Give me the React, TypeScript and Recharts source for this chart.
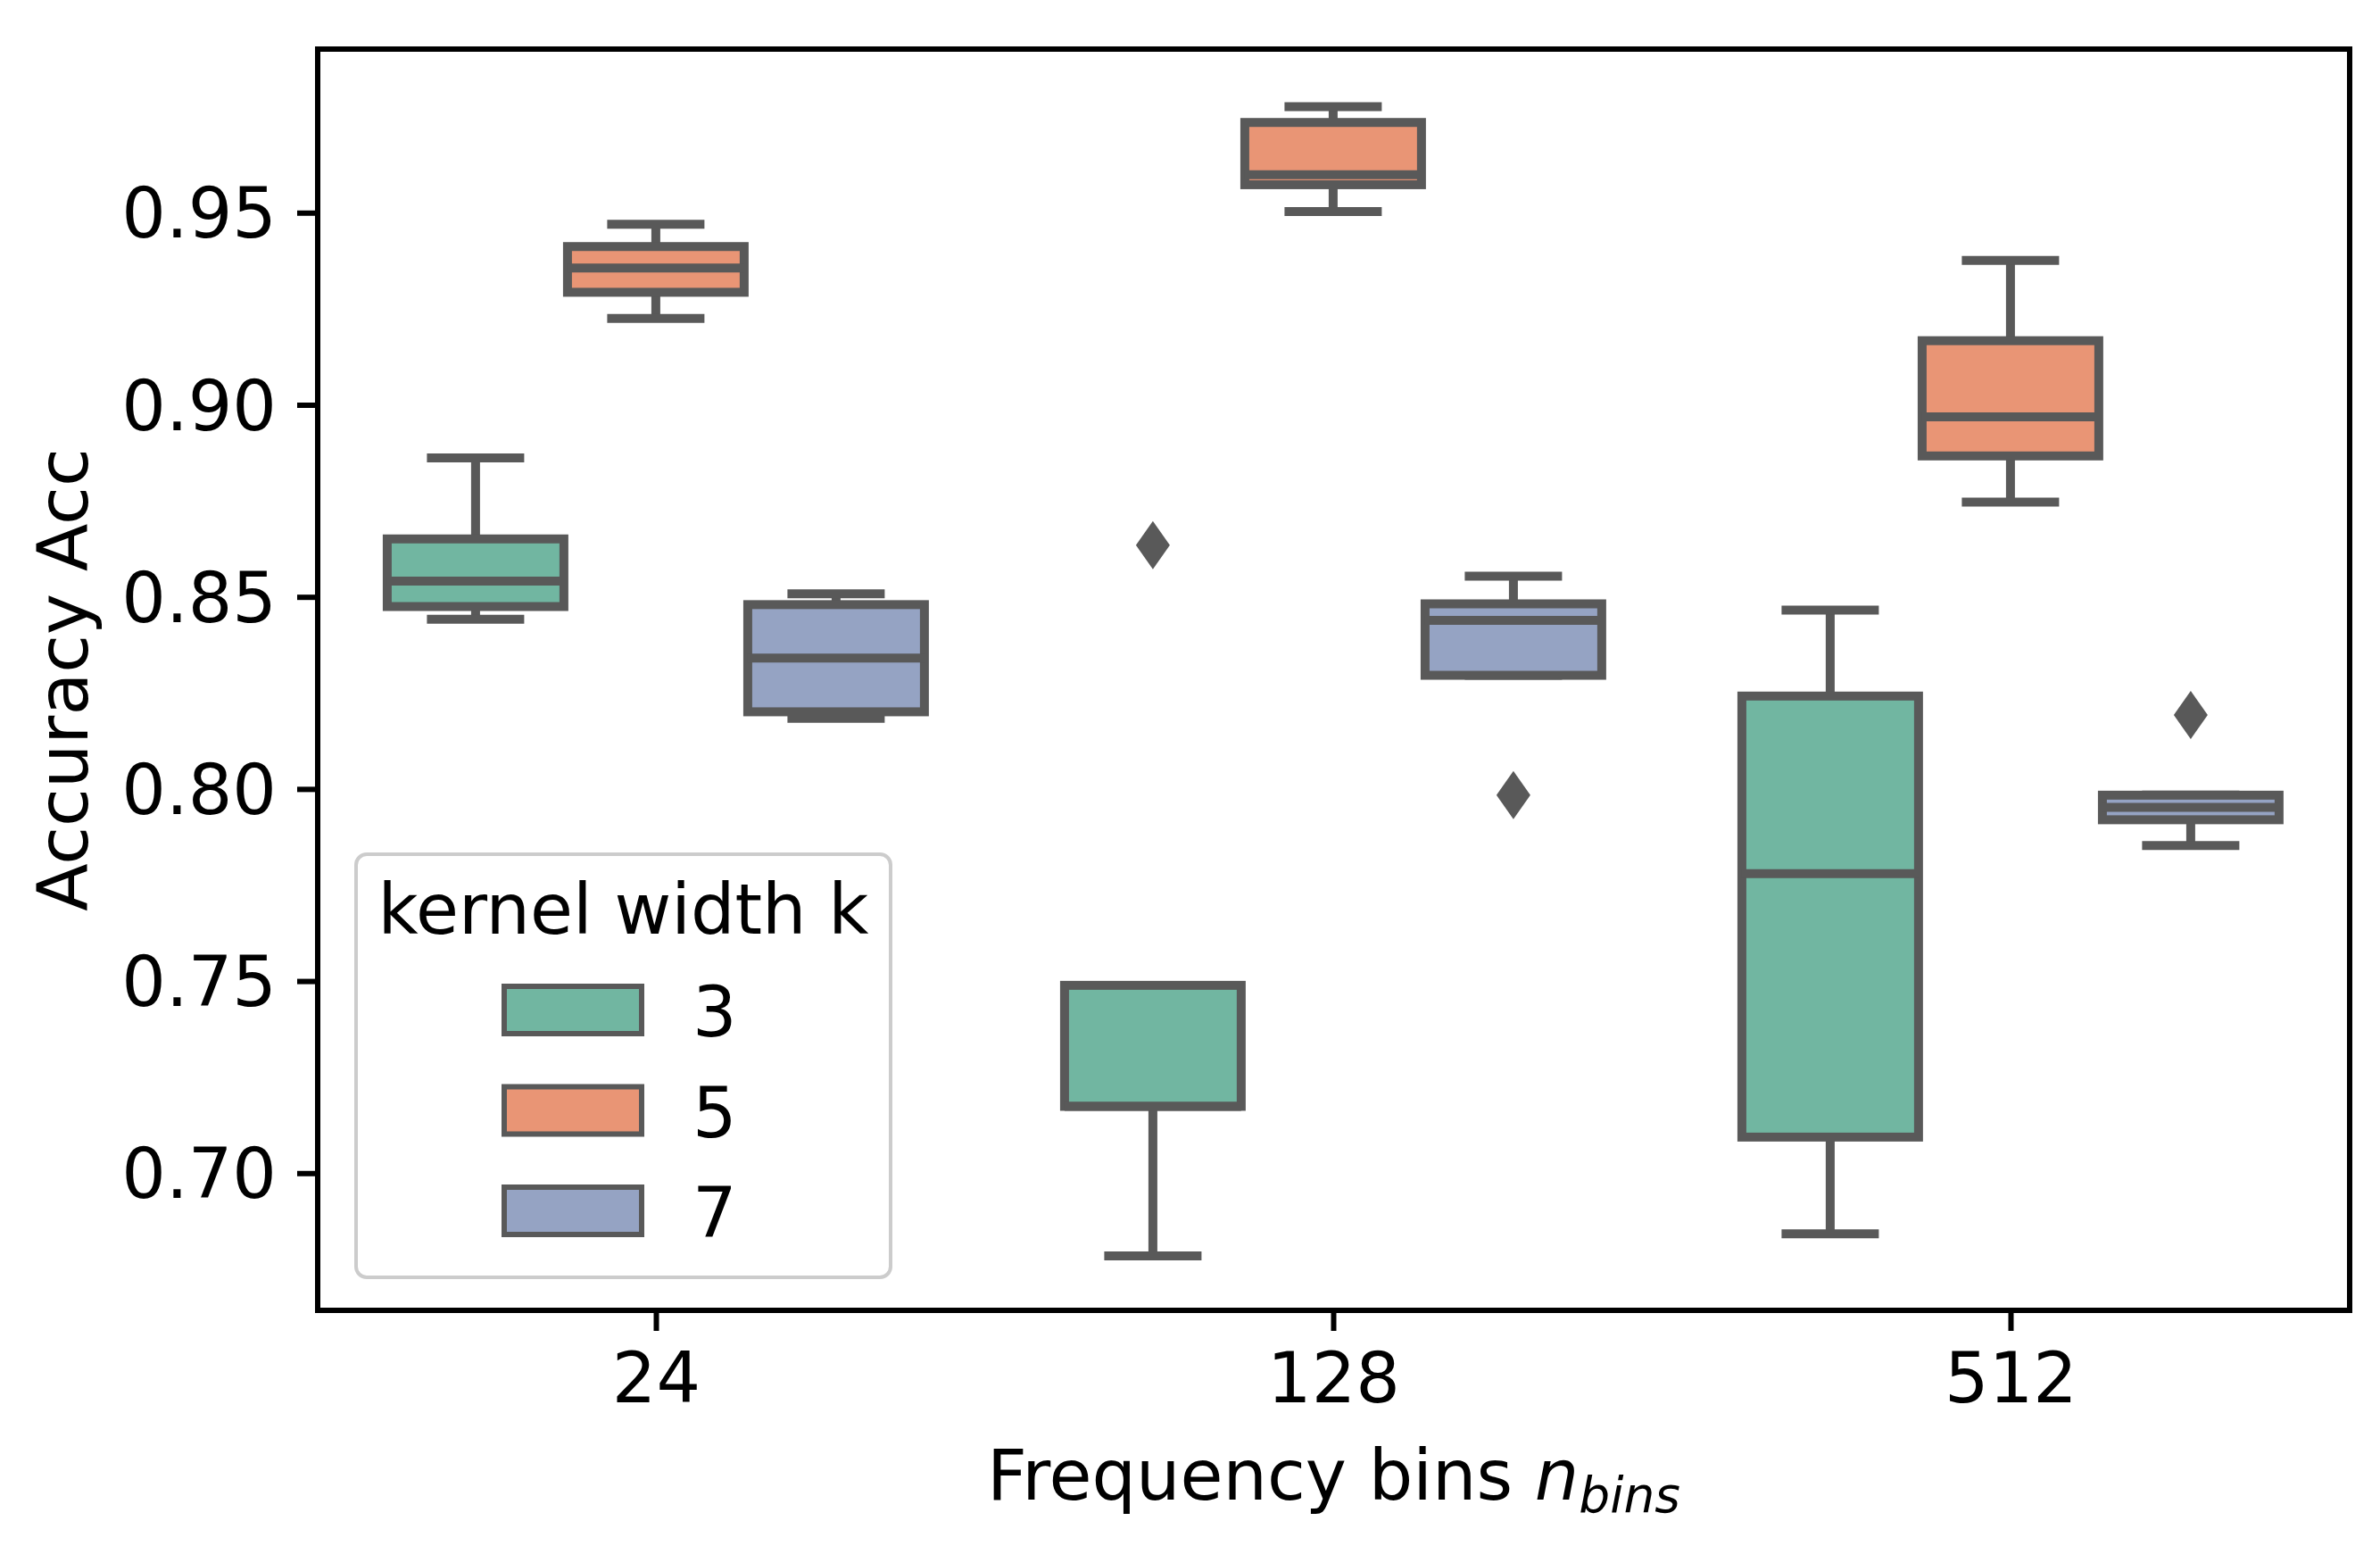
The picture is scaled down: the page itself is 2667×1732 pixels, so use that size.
import React from 'react'
import { ComposedChart, Bar, XAxis, YAxis, Legend, ReferenceArea } from 'recharts'

const bins = ['24', '128', '512']
const kernels = ['3', '5', '7']
const colors = ['#71b6a1', '#e99575', '#95a3c3']
const yTicks = [0.7, 0.75, 0.8, 0.85, 0.9, 0.95]
const yDomain = [0.6644, 0.9927]

// per bin: [whisker low, q1, median, q3, whisker high]
const k3Stats = [
  [0.8443, 0.8476, 0.8542, 0.8652, 0.8863],
  [0.6786, 0.7175, 0.7175, 0.749, 0.749],
  [0.6843, 0.7095, 0.7781, 0.8243, 0.8467],
]
const k5Stats = [
  [0.9226, 0.9294, 0.9357, 0.9413, 0.9471],
  [0.9504, 0.9574, 0.96, 0.9736, 0.9777],
  [0.8748, 0.8868, 0.897, 0.9168, 0.9377],
]
const k7Stats = [
  [0.8185, 0.8202, 0.8342, 0.8481, 0.8509],
  [0.8297, 0.8297, 0.844, 0.8483, 0.8555],
  [0.7854, 0.7921, 0.7953, 0.7985, 0.7985],
]
const k3Outliers = [[], [0.8636], []]
const k5Outliers = [[], [], []]
const k7Outliers = [[], [0.7985], [0.8194]]

const series = [
  { key: 'k3', stats: k3Stats, outliers: k3Outliers },
  { key: 'k5', stats: k5Stats, outliers: k5Outliers },
  { key: 'k7', stats: k7Stats, outliers: k7Outliers },
]

const data = bins.map((b, i) => {
  const row: any = { bins: b }
  series.forEach(s => {
    const vals = [...s.stats[i], ...s.outliers[i]]
    row[s.key] = [Math.min(...vals), Math.max(...vals)]
    row[s.key + 'Stats'] = s.stats[i]
    row[s.key + 'Out'] = s.outliers[i]
  })
  return row
})

const LINE = '#595959'
const FONT = 'DejaVu Sans'

// box + whiskers + fliers drawn inside the bar's [min, max] span
const BoxShape = (props: any) => {
  const { x, y, width, height, payload, seriesKey, color } = props
  if (!payload) return null
  const [lo, hi] = payload[seriesKey]
  const [wlo, q1, med, q3, whi] = payload[seriesKey + 'Stats']
  const outs: number[] = payload[seriesKey + 'Out']
  const top = Math.min(y, y + height)
  const bottom = Math.max(y, y + height)
  const toY = (v: number) => top + ((hi - v) * (bottom - top)) / (hi - lo)

  const cx = x + width / 2
  const boxW = width * 0.98
  const capW = boxW / 2
  const lw = 10

  return (
    <g>
      <line x1={cx} x2={cx} y1={toY(q3)} y2={toY(whi)} stroke={LINE} strokeWidth={lw} />
      <line x1={cx} x2={cx} y1={toY(q1)} y2={toY(wlo)} stroke={LINE} strokeWidth={lw} />
      <line x1={cx - capW / 2} x2={cx + capW / 2} y1={toY(whi)} y2={toY(whi)} stroke={LINE} strokeWidth={lw} strokeLinecap="square" />
      <line x1={cx - capW / 2} x2={cx + capW / 2} y1={toY(wlo)} y2={toY(wlo)} stroke={LINE} strokeWidth={lw} strokeLinecap="square" />
      <rect
        x={cx - boxW / 2}
        y={toY(q3)}
        width={boxW}
        height={toY(q1) - toY(q3)}
        fill={color}
        stroke={LINE}
        strokeWidth={lw}
      />
      <line x1={cx - boxW / 2} x2={cx + boxW / 2} y1={toY(med)} y2={toY(med)} stroke={LINE} strokeWidth={lw} />
      {outs.map((v, i) => {
        const oy = toY(v)
        return (
          <path
            key={i}
            d={`M${cx},${oy - 27} L${cx + 19},${oy} L${cx},${oy + 27} L${cx - 19},${oy} Z`}
            fill={LINE}
          />
        )
      })}
    </g>
  )
}

const XLabel = (props: any) => {
  const vb = props.viewBox || { x: 356, y: 1468, width: 2277 }
  const cx = vb.x + vb.width / 2
  return (
    <text x={cx} y={1680} textAnchor="middle" fontFamily={FONT} fontSize={78} fill="#000">
      <tspan>Frequency bins </tspan>
      <tspan fontStyle="italic">n</tspan>
      <tspan fontStyle="italic" fontSize={55} dy={14}>bins</tspan>
    </text>
  )
}

const YLabel = (props: any) => {
  const vb = props.viewBox || { y: 55, height: 1413 }
  const cy = vb.y + vb.height / 2
  return (
    <text
      x={98}
      y={cy}
      transform={`rotate(-90, 98, ${cy})`}
      textAnchor="middle"
      fontFamily={FONT}
      fontSize={78}
      fill="#000"
    >
      Accuracy Acc
    </text>
  )
}

const LegendBox = () => (
  <svg width={603} height={478} style={{ display: 'block' }}>
    <rect x={2} y={2} width={599} height={474} rx={12} fill="#fff" stroke="#cccccc" strokeWidth={4} />
    <text x={301.5} y={91} textAnchor="middle" fontFamily={FONT} fontSize={78} fill="#000">
      kernel width k
    </text>
    {kernels.map((k, i) => (
      <g key={k}>
        <rect x={168} y={150 + i * 112.5} width={154} height={53} fill={colors[i]} stroke={LINE} strokeWidth={6} />
        <text x={379} y={206 + i * 112.5} fontFamily={FONT} fontSize={78} fill="#000">
          {k}
        </text>
      </g>
    ))}
  </svg>
)

export default function App() {
  const tickStyle = { fill: '#000', fontSize: 78, fontFamily: FONT }
  const spine = { stroke: '#000', strokeWidth: 6, strokeLinecap: 'square' as const }
  return (
    <div style={{ position: 'absolute', left: 0, top: 0, width: 2667, height: 1732, background: '#fff' }}>
      <ComposedChart
        width={2667}
        height={1732}
        data={data}
        margin={{ top: 55, right: 34, bottom: 0, left: 0 }}
        barCategoryGap="10%"
        barGap={0}
      >
        <XAxis
          dataKey="bins"
          height={264}
          axisLine={spine}
          tickLine={{ stroke: '#000', strokeWidth: 6 }}
          tickSize={23}
          tickMargin={25}
          tick={tickStyle}
          label={<XLabel />}
        />
        <YAxis
          type="number"
          domain={yDomain}
          allowDataOverflow
          ticks={yTicks}
          tickFormatter={(v: number) => v.toFixed(2)}
          width={356}
          axisLine={spine}
          tickLine={{ stroke: '#000', strokeWidth: 6 }}
          tickSize={23}
          tickMargin={23}
          tick={tickStyle}
          label={<YLabel />}
        />
        {/* full frame (top and right spines) */}
        <ReferenceArea
          y1={yDomain[0]}
          y2={yDomain[1]}
          fill="none"
          fillOpacity={0}
          stroke="#000"
          strokeWidth={6}
          ifOverflow="visible"
        />
        <Legend
          layout="horizontal"
          verticalAlign="middle"
          align="center"
          content={() => <LegendBox />}
          wrapperStyle={{ left: 397, top: 955, width: 603, height: 478 }}
        />
        {series.map((s, i) => (
          <Bar
            key={s.key}
            dataKey={s.key}
            name={kernels[i]}
            fill={colors[i]}
            isAnimationActive={false}
            shape={(p: any) => <BoxShape {...p} seriesKey={s.key} color={colors[i]} />}
          />
        ))}
      </ComposedChart>
    </div>
  )
}
